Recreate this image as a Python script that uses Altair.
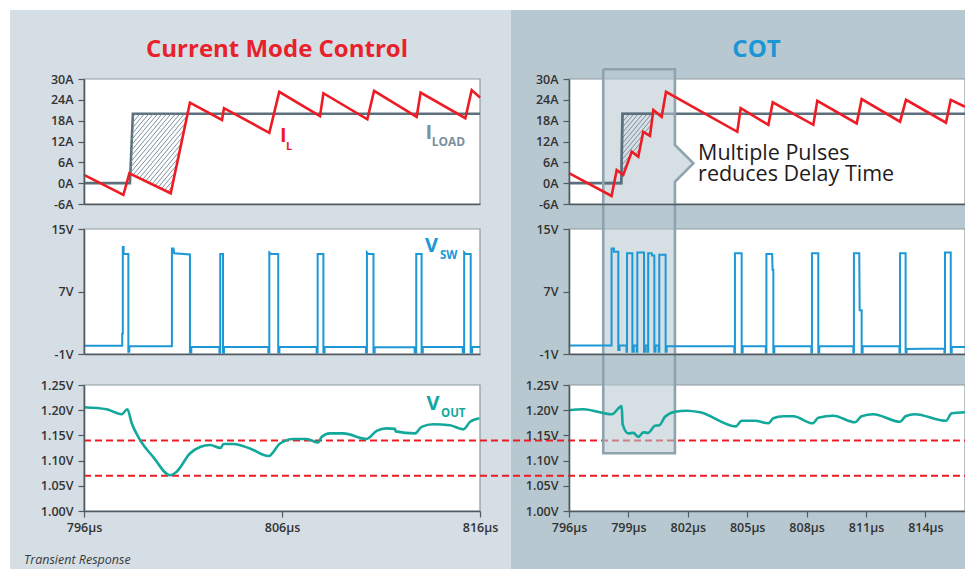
import altair as alt
import pandas as pd
import numpy as np

W, H = 957, 561

# ---------------- data ----------------
# Current Mode Control: inductor current I_L (A)
IL_CMC_T = [796.0, 797.99, 798.29, 800.38, 801.35, 802.97, 803.07, 805.36, 805.86, 807.92,
            808.09, 810.31, 810.65, 812.80, 813.0, 815.26, 815.58, 816.0]
IL_CMC_A = [2.4, -3.4, 2.84, -2.9, 23.2, 18.2, 21.6, 14.5, 26.3, 19.3,
            25.9, 18.4, 26.6, 19.1, 26.1, 18.7, 26.8, 24.7]
ILOAD_CMC_T = [796.0, 798.32, 798.47, 816.0]
ILOAD_CMC_A = [0.0, 0.0, 20.0, 20.0]

# COT: inductor current I_L (A)
IL_COT_T = [796.0, 798.15, 798.41, 798.74, 799.17, 799.5, 799.75, 800.09, 800.26, 800.68,
            800.9, 804.5, 804.67, 806.07, 806.29, 808.34, 808.54, 810.53, 810.78, 812.72,
            813.02, 815.04, 815.28, 816.0]
IL_COT_A = [2.9, -3.7, 3.8, 2.35, 9.06, 7.6, 14.8, 13.6, 21.1, 19.1,
            26.3, 14.8, 21.6, 16.8, 23.3, 16.8, 23.7, 17.2, 24.2, 17.7,
            24.0, 17.4, 24.0, 22.0]
ILOAD_COT_T = [796.0, 798.64, 798.70, 816.0]
ILOAD_COT_A = [0.0, 0.0, 20.0, 20.0]

# Hatched "delay" regions (t, A) between I_L and I_LOAD
HATCH_CMC = [(798.32, 2.76), (798.47, 20.0), (801.23, 20.0), (800.38, -2.9)]
HATCH_COT = [(798.64, 2.75), (798.70, 20.0), (800.235, 20.0), (800.09, 13.6), (799.75, 14.8),
             (799.5, 7.6), (799.17, 9.06), (798.74, 2.35)]

# Switch node voltage V_SW (V)
VSW_CMC = [(796.0, 0.05), (797.93, 0.05), (797.93, 1.6), (797.96, 1.6), (797.96, 12.7), (798.0, 12.7),
           (798.0, 11.8), (798.24, 11.8), (798.24, -0.7), (798.29, -0.7), (798.29, 0.0),
           (800.44, 0.0), (800.44, 12.5), (800.52, 12.5), (800.55, 11.9), (801.35, 11.75),
           (801.35, -0.8), (801.42, -0.8), (801.42, -0.1),
           (802.84, -0.1), (802.84, -0.8), (802.88, -0.8), (802.88, 11.8), (803.02, 11.8),
           (803.02, -0.8), (803.07, -0.8), (803.07, -0.1),
           (805.31, -0.1), (805.31, -0.8), (805.36, -0.8), (805.36, 12.0), (805.45, 11.8),
           (805.81, 11.8), (805.81, -0.8), (805.87, -0.8), (805.87, -0.1),
           (807.75, -0.1), (807.75, -0.8), (807.8, -0.8), (807.8, 11.8), (808.09, 11.8),
           (808.09, -0.8), (808.15, -0.8), (808.15, -0.1),
           (810.24, -0.1), (810.24, -0.8), (810.29, -0.8), (810.29, 12.0), (810.36, 11.8),
           (810.62, 11.8), (810.62, -0.8), (810.68, -0.8), (810.68, -0.1),
           (812.7, -0.15), (812.7, -0.8), (812.78, -0.8), (812.78, 11.8), (813.05, 11.8),
           (813.05, -0.8), (813.11, -0.8), (813.11, -0.1),
           (815.13, -0.1), (815.13, -0.8), (815.2, -0.8), (815.2, 12.0), (815.27, 11.8),
           (815.53, 11.8), (815.53, -0.8), (815.6, -0.8), (815.6, -0.1), (816.0, -0.1)]

VSW_COT = [(796.0, 0.1), (798.15, 0.1), (798.15, 12.5), (798.27, 12.5), (798.27, 12.1), (798.49, 12.1),
           (798.49, -0.5), (798.55, -0.5), (798.55, 0.1),
           (798.9, 0.1), (798.9, -0.7), (798.93, -0.7), (798.93, 11.9), (799.2, 11.9),
           (799.2, -0.7), (799.27, -0.7), (799.27, 0.1),
           (799.42, 0.1), (799.42, -0.7), (799.45, -0.7), (799.45, 12.0), (799.79, 12.0),
           (799.79, -0.7), (799.85, -0.7), (799.85, 0.1),
           (799.97, 0.1), (799.97, -0.7), (800.0, -0.7), (800.0, 11.9), (800.18, 11.9), (800.2, 11.6),
           (800.31, 11.6), (800.31, -0.7), (800.37, -0.7), (800.37, 0.1),
           (800.53, 0.1), (800.53, -0.7), (800.56, -0.7), (800.56, 11.7), (800.88, 11.7),
           (800.88, -0.7), (800.93, -0.7), (800.93, 0.0),
           (804.35, 0.0), (804.35, -0.8), (804.38, -0.8), (804.38, 11.9), (804.72, 11.9),
           (804.72, -0.8), (804.77, -0.8), (804.77, 0.0),
           (805.94, 0.0), (805.94, -0.8), (805.97, -0.8), (805.97, 11.8), (806.26, 11.8), (806.28, 9.8),
           (806.32, 9.8), (806.32, -0.8), (806.37, -0.8), (806.37, 0.0),
           (808.24, 0.0), (808.24, -0.8), (808.27, -0.8), (808.27, 11.9), (808.59, 11.9),
           (808.59, -0.8), (808.64, -0.8), (808.64, 0.0),
           (810.36, 0.0), (810.36, -0.8), (810.39, -0.8), (810.39, 11.9), (810.66, 11.9), (810.68, 4.6),
           (810.78, 4.6), (810.78, -0.8), (810.83, -0.8), (810.83, 0.0),
           (812.69, 0.0), (812.69, -0.8), (812.72, -0.8), (812.72, 11.9), (813.0, 11.9),
           (813.0, -0.8), (813.05, -0.8), (813.05, -0.35),
           (814.96, -0.3), (814.96, -0.8), (814.99, -0.8), (814.99, 12.0), (815.28, 12.0),
           (815.28, -0.8), (815.33, -0.8), (815.33, -0.1), (816.0, -0.1)]

# Output voltage V_OUT (V)
VOUT_CMC = [(796.0, 1.206), (797.14, 1.202), (797.9, 1.192), (798.19, 1.202), (798.41, 1.174),
            (798.83, 1.141), (799.5, 1.107), (800.34, 1.071), (800.68, 1.078), (801.35, 1.114),
            (801.86, 1.127), (802.36, 1.131), (802.9, 1.125), (803.04, 1.133), (803.54, 1.133),
            (804.38, 1.124), (805.32, 1.109), (805.9, 1.134), (806.57, 1.143), (807.24, 1.143),
            (807.83, 1.136), (808.0, 1.147), (808.42, 1.154), (809.1, 1.154), (810.28, 1.143),
            (810.78, 1.159), (811.29, 1.164), (811.71, 1.163), (811.74, 1.158), (812.72, 1.154),
            (813.05, 1.167), (813.64, 1.172), (814.48, 1.170), (815.16, 1.162), (815.5, 1.177),
            (815.97, 1.184)]
VOUT_COT = [(796.0, 1.200), (796.72, 1.202), (798.16, 1.192), (798.66, 1.208), (798.71, 1.172),
            (799.0, 1.154), (799.25, 1.155), (799.5, 1.147), (799.75, 1.156), (800.0, 1.155),
            (800.34, 1.169), (800.56, 1.170), (800.85, 1.187), (801.35, 1.197), (801.94, 1.199),
            (802.62, 1.196), (804.43, 1.168), (804.72, 1.179), (805.39, 1.179), (806.07, 1.174),
            (806.32, 1.184), (806.82, 1.188), (807.33, 1.188), (808.31, 1.174), (808.59, 1.185),
            (809.35, 1.189), (810.44, 1.176), (810.78, 1.188), (811.37, 1.192), (812.72, 1.177),
            (813.0, 1.188), (813.47, 1.192), (815.04, 1.179), (815.33, 1.194), (816.0, 1.196)]

LIMITS = [1.14, 1.07]

# callout box (right column, x in µs, y in I_L amp units)
BOX_T = [797.73, 801.35]
BOX_A = [32.8, -77.8]
PTR = [(801.35, 11.0, 0.42), (802.28, 5.72, 5.72)]
OUTLINE = [(797.73, 32.8), (801.35, 32.8), (801.35, 11.0), (802.28, 5.72), (801.35, 0.42),
           (801.35, -77.8), (797.73, -77.8), (797.73, 32.8)]

# tick values
X_TICKS = {'L': [796, 806, 816], 'R': [796, 799, 802, 805, 808, 811, 814]}
Y_TICKS = {'il': [-6, 0, 6, 12, 18, 24, 30], 'vsw': [-1, 7, 15],
           'vout': [1.0, 1.05, 1.10, 1.15, 1.20, 1.25]}
Y_LABEL = {'il': "datum.value + 'A'", 'vsw': "datum.value + 'V'",
           'vout': "format(datum.value, '.2f') + 'V'"}

# ---------------- layout / style ----------------
XL = (76, 472)
XR = (561, 957)
ROWS = {'il': ((-6, 30), (196, 71)), 'vsw': ((-1, 15), (346, 221)), 'vout': ((1.0, 1.25), (503, 377))}

RED = '#ed1c24'
BLUE = '#1b98d5'
TEAL = '#12a89b'
ILOAD_C = '#5b6f7c'
ILOAD_LAB = '#7b909d'
PANEL_L = '#d5dee5'
PANEL_R = '#b7c8d1'
BOX_STROKE = '#8fa3af'
HATCH_C = '#7b909e'
FRAME = '#8e989e'
FONT = 'Open Sans'


def XS(col):
    r = XL if col == 'L' else XR
    return alt.Scale(domain=[796, 816], range=list(r), nice=False, zero=False)


def YS(row):
    d, r = ROWS[row]
    return alt.Scale(domain=list(d), range=list(r), nice=False, zero=False)


def enc(col, row, xf='t', yf='v'):
    return dict(x=alt.X(f'{xf}:Q', scale=XS(col), axis=None),
                y=alt.Y(f'{yf}:Q', scale=YS(row), axis=None))


def pairs_df(pairs):
    return pd.DataFrame({'t': [p[0] for p in pairs], 'v': [p[1] for p in pairs],
                         'i': list(range(len(pairs)))})


def line(pairs, col, row, color, width, interp='linear'):
    return alt.Chart(pairs_df(pairs)).mark_line(
        color=color, strokeWidth=width, interpolate=interp, strokeJoin='miter', clip=False
    ).encode(order='i:Q', **enc(col, row))


def frame(col, row):
    d, r = ROWS[row]
    df = pd.DataFrame({'x0': [796], 'x1': [816], 'y0': [d[0]], 'y1': [d[1]]})
    left = XL[0] if col == 'L' else XR[0]
    common = dict(title=None, grid=False, zindex=1, domainColor='#505a60', domainWidth=1.6,
                  tickColor='#505a60', tickWidth=1.2, labelFont=FONT, labelFontSize=12.5,
                  labelFontWeight=600, labelColor='#333333', labelFlush=False)
    yax = alt.Axis(orient='left', offset=-left, values=Y_TICKS[row], labelExpr=Y_LABEL[row],
                   tickSize=6, labelPadding=5, **common)
    if row == 'vout':
        xax = alt.Axis(orient='bottom', offset=r[0] - H, values=X_TICKS[col],
                       labelExpr="datum.value + 'µs'", tickSize=6, labelPadding=4, **common)
    else:
        xax = alt.Axis(orient='bottom', offset=r[0] - H, labels=False, ticks=False, **common)
    return alt.Chart(df).mark_rect(fill='white', stroke=FRAME, strokeWidth=1.2).encode(
        x=alt.X('x0:Q', scale=XS(col), axis=xax), x2='x1:Q',
        y=alt.Y('y0:Q', scale=YS(row), axis=yax), y2='y1:Q')


def hatch_df(poly, angle=50, spacing=3.4):
    kx = (XL[1] - XL[0]) / 20.0
    ky = (ROWS['il'][1][0] - ROWS['il'][1][1]) / 36.0
    P = [((t - 796) * kx, -a * ky) for t, a in poly]
    th = np.radians(angle)
    n = (np.sin(th), np.cos(th))
    d = (np.cos(th), -np.sin(th))
    proj = [p[0] * n[0] + p[1] * n[1] for p in P]
    rows = []
    c = np.floor(min(proj) / spacing) * spacing + spacing / 2
    while c <= max(proj):
        pts = []
        for k in range(len(P)):
            p1, p2 = P[k], P[(k + 1) % len(P)]
            f1 = p1[0] * n[0] + p1[1] * n[1] - c
            f2 = p2[0] * n[0] + p2[1] * n[1] - c
            if (f1 < 0) != (f2 < 0):
                s = f1 / (f1 - f2)
                pts.append((p1[0] + s * (p2[0] - p1[0]), p1[1] + s * (p2[1] - p1[1])))
        pts.sort(key=lambda p: p[0] * d[0] + p[1] * d[1])
        for j in range(0, len(pts) - 1, 2):
            a, b = pts[j], pts[j + 1]
            rows.append({'t': 796 + a[0] / kx, 'v': -a[1] / ky,
                         't2': 796 + b[0] / kx, 'v2': -b[1] / ky})
        c += spacing
    return pd.DataFrame(rows)


def hatch(poly, col):
    return alt.Chart(hatch_df(poly)).mark_rule(color=HATCH_C, strokeWidth=1.0).encode(
        x2='t2:Q', y2='v2:Q', **enc(col, 'il'))


def text(col, row, t, v, s, color, size, weight='bold', align='left', style='normal', lh=None):
    df = pd.DataFrame({'t': [t], 'v': [v], 's': [s]})
    kw = dict(align=align, baseline='alphabetic', font=FONT, fontSize=size, fontWeight=weight,
              color=color, fontStyle=style)
    if lh is not None:
        kw.update(lineBreak='\n', lineHeight=lh)
    return alt.Chart(df).mark_text(**kw).encode(text='s:N', **enc(col, row))


def vtext(x, y, s, color, size, weight='bold', align='left', style='normal'):
    return alt.Chart(pd.DataFrame({'s': [s]})).mark_text(
        align=align, baseline='alphabetic', font=FONT, fontSize=size, fontWeight=weight,
        color=color, fontStyle=style
    ).encode(text='s:N', x=alt.value(x), y=alt.value(y))


def panel(x0, x1, color):
    return alt.Chart(pd.DataFrame({'a': [0]})).mark_rect(fill=color).encode(
        x=alt.value(x0), x2=alt.value(x1), y=alt.value(2), y2=alt.value(H))


layers = []
layers.append(panel(2, 503, PANEL_L))
layers.append(panel(503, W, PANEL_R))
for col in ['L', 'R']:
    for row in ['il', 'vsw', 'vout']:
        layers.append(frame(col, row))

# load currents (beneath the callout box)
layers.append(line(list(zip(ILOAD_CMC_T, ILOAD_CMC_A)), 'L', 'il', ILOAD_C, 2.6))
layers.append(line(list(zip(ILOAD_COT_T, ILOAD_COT_A)), 'R', 'il', ILOAD_C, 2.6))

# dashed tolerance lines spanning both panels
lim_df = pd.DataFrame({'t': [796] * len(LIMITS), 'v': LIMITS})
layers.append(alt.Chart(lim_df).mark_rule(color=RED, strokeWidth=2, strokeDash=[7, 4]).encode(
    x=alt.X('t:Q', scale=XS('L'), axis=None), x2=alt.value(W),
    y=alt.Y('v:Q', scale=YS('vout'), axis=None)))

# callout box fill
box_df = pd.DataFrame({'t': [BOX_T[0]], 't2': [BOX_T[1]], 'v': [BOX_A[0]], 'v2': [BOX_A[1]]})
layers.append(alt.Chart(box_df).mark_rect(fill=PANEL_R, opacity=0.58).encode(
    x2='t2:Q', y2='v2:Q', **enc('R', 'il')))
ptr_df = pd.DataFrame({'t': [p[0] for p in PTR], 'v': [p[1] for p in PTR], 'v2': [p[2] for p in PTR]})
layers.append(alt.Chart(ptr_df).mark_area(fill=PANEL_R, opacity=0.58, orient='vertical').encode(
    y2='v2:Q', **enc('R', 'il')))

# hatched delay areas
layers.append(hatch(HATCH_CMC, 'L'))
layers.append(hatch(HATCH_COT, 'R'))
layers.append(line([(797.73, 0.0), (798.64, 0.0), (798.70, 20.0), (800.235, 20.0)], 'R', 'il', ILOAD_C, 2.6))

# callout outline
layers.append(line(OUTLINE, 'R', 'il', BOX_STROKE, 2.6))

# waveforms
layers.append(line(list(zip(IL_CMC_T, IL_CMC_A)), 'L', 'il', RED, 2.6))
layers.append(line(list(zip(IL_COT_T, IL_COT_A)), 'R', 'il', RED, 2.6))
layers.append(line(VSW_CMC, 'L', 'vsw', BLUE, 2))
layers.append(line(VSW_COT, 'R', 'vsw', BLUE, 2))
layers.append(line(VOUT_CMC, 'L', 'vout', TEAL, 2.6, 'monotone'))
layers.append(line(VOUT_COT, 'R', 'vout', TEAL, 2.6, 'monotone'))

# labels
layers.append(text('L', 'il', 805.9, 11.8, 'I', RED, 20))
layers.append(text('L', 'il', 806.2, 9.5, 'L', RED, 11))
layers.append(text('L', 'il', 813.25, 12.7, 'I', ILOAD_LAB, 20))
layers.append(text('L', 'il', 813.56, 10.8, 'LOAD', ILOAD_LAB, 12))
layers.append(text('L', 'vsw', 813.22, 12.0, 'V', BLUE, 20))
layers.append(text('L', 'vsw', 813.98, 11.1, 'SW', BLUE, 11.5))
layers.append(text('L', 'vout', 813.3, 1.2, 'V', TEAL, 20))
layers.append(text('L', 'vout', 814.03, 1.187, 'OUT', TEAL, 11.5))
layers.append(text('R', 'il', 802.52, 6.53, 'Multiple Pulses\nreduces Delay Time', '#1e1b1c', 21.5,
                   weight='normal', lh=20.5))
layers.append(vtext(269, 49, 'Current Mode Control', '#e8212b', 24, align='center'))
layers.append(vtext(748.5, 49, 'COT', '#1a96d6', 24, align='center'))
layers.append(vtext(16, 556, 'Transient Response', '#3a3a3a', 12.5, weight='normal', style='italic'))

chart = alt.layer(*layers).resolve_scale(x='independent', y='independent').properties(
    width=W, height=H, padding=0, background='white',
    autosize=alt.AutoSizeParams(type='none', contains='padding')
).configure_view(strokeWidth=0)

chart.save("out.html", embed_options={"renderer": "svg", "actions": False})
